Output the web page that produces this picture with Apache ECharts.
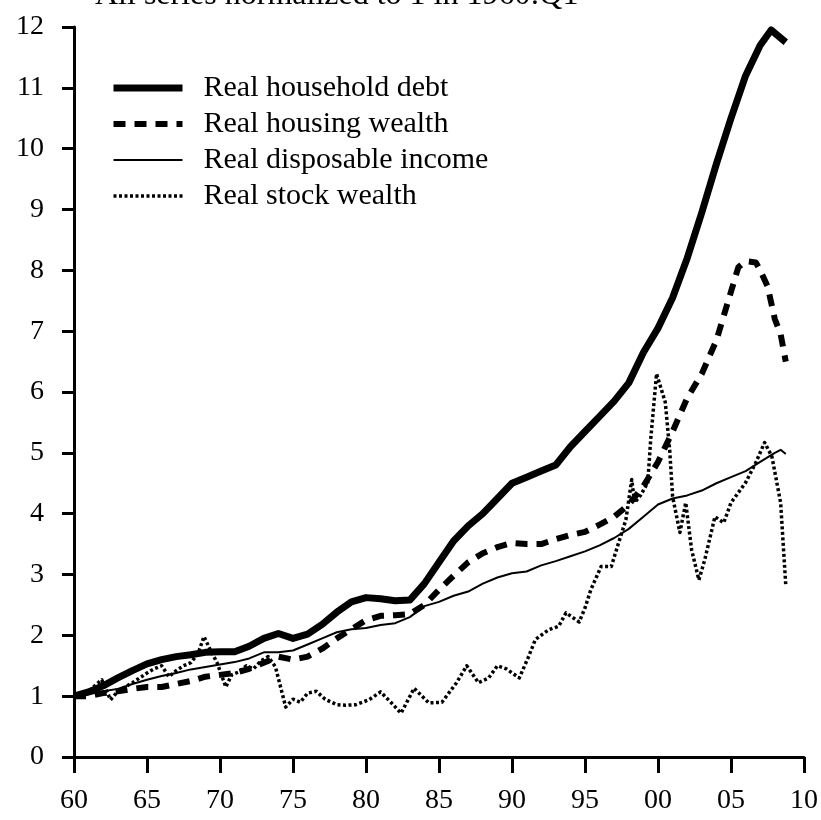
<!DOCTYPE html>
<html>
<head>
<meta charset="utf-8">
<script src="https://cdn.jsdelivr.net/npm/echarts@6/dist/echarts.min.js"></script>
<style>
  html, body { margin: 0; padding: 0; background: #fff; }
  #chart { width: 821px; height: 820px; }
</style>
</head>
<body>
<div id="chart"></div>
<script>
// Household balance sheet series, normalized to 1 in 1960:Q1 ([year, index])
const seriesNames = ['Real household debt', 'Real housing wealth', 'Real disposable income', 'Real stock wealth'];

const householdDebt = [
  [1960, 1.0], [1961, 1.07], [1962, 1.17], [1963, 1.3], [1964, 1.42], [1965, 1.53],
  [1966, 1.6], [1967, 1.65], [1968, 1.68], [1969, 1.72], [1970, 1.73], [1971, 1.73],
  [1972, 1.82], [1973, 1.95], [1974, 2.03], [1975, 1.95], [1976, 2.02], [1977, 2.18],
  [1978, 2.38], [1979, 2.55], [1980, 2.62], [1981, 2.6], [1982, 2.57], [1983, 2.58],
  [1984, 2.85], [1985, 3.2], [1986, 3.55], [1987, 3.8], [1988, 4.0], [1989, 4.25],
  [1990, 4.5], [1991, 4.6], [1992, 4.7], [1993, 4.8], [1994, 5.1], [1995, 5.35],
  [1996, 5.6], [1997, 5.85], [1998, 6.15], [1999, 6.65], [2000, 7.05], [2001, 7.55],
  [2002, 8.2], [2003, 8.95], [2004, 9.75], [2005, 10.5], [2006, 11.2], [2007, 11.7],
  [2007.75, 11.95], [2008.75, 11.75]
];

const housingWealth = [
  [1960, 1.0], [1961, 1.0], [1962, 1.05], [1963, 1.08], [1964, 1.12], [1965, 1.15],
  [1966, 1.15], [1967, 1.2], [1968, 1.25], [1969, 1.32], [1970, 1.35], [1971, 1.38],
  [1972, 1.45], [1973, 1.55], [1974, 1.65], [1975, 1.6], [1976, 1.65], [1977, 1.78],
  [1978, 1.95], [1979, 2.1], [1980, 2.25], [1981, 2.32], [1982, 2.33], [1983, 2.35],
  [1984, 2.5], [1985, 2.75], [1986, 2.98], [1987, 3.2], [1988, 3.35], [1989, 3.45],
  [1990, 3.52], [1991, 3.5], [1992, 3.5], [1993, 3.58], [1994, 3.65], [1995, 3.7],
  [1996, 3.82], [1997, 3.95], [1998, 4.15], [1999, 4.45], [2000, 4.85], [2001, 5.35],
  [2002, 5.9], [2003, 6.3], [2004, 6.85], [2005, 7.65], [2005.5, 8.05], [2006, 8.15],
  [2006.7, 8.13], [2007, 8.0], [2007.5, 7.74], [2008, 7.2], [2008.4, 6.95], [2008.75, 6.5]
];

const disposableIncome = [
  [1960, 1.0], [1961, 1.03], [1962, 1.08], [1963, 1.12], [1964, 1.2], [1965, 1.27],
  [1966, 1.33], [1967, 1.38], [1968, 1.44], [1969, 1.48], [1970, 1.52], [1971, 1.56],
  [1972, 1.62], [1973, 1.72], [1974, 1.72], [1975, 1.75], [1976, 1.85], [1977, 1.95],
  [1978, 2.05], [1979, 2.1], [1980, 2.12], [1981, 2.17], [1982, 2.2], [1983, 2.3],
  [1984, 2.48], [1985, 2.55], [1986, 2.65], [1987, 2.72], [1988, 2.85], [1989, 2.95],
  [1990, 3.02], [1991, 3.05], [1992, 3.15], [1993, 3.22], [1994, 3.3], [1995, 3.38],
  [1996, 3.48], [1997, 3.6], [1998, 3.75], [1999, 3.95], [2000, 4.15], [2001, 4.25],
  [2002, 4.3], [2003, 4.38], [2004, 4.5], [2005, 4.6], [2006, 4.7], [2007, 4.85],
  [2008, 5.0], [2008.4, 5.05], [2008.75, 4.98]
];

const stockWealth = [
  [1960, 1.0], [1960.5, 1.02], [1961, 1.08], [1961.9, 1.27], [1962.5, 0.94], [1963, 1.08],
  [1963.5, 1.15], [1964, 1.22], [1964.5, 1.3], [1965, 1.38], [1965.5, 1.45], [1966, 1.5],
  [1966.5, 1.32], [1967, 1.42], [1967.5, 1.5], [1968, 1.55], [1968.5, 1.7], [1968.9, 1.98],
  [1969.3, 1.78], [1969.8, 1.55], [1970.4, 1.15], [1970.8, 1.35], [1971.3, 1.4], [1971.8, 1.5],
  [1972.3, 1.45], [1972.8, 1.58], [1973.3, 1.65], [1973.8, 1.48], [1974.5, 0.82], [1975.0, 0.95],
  [1975.5, 0.9], [1976, 1.05], [1976.6, 1.08], [1977.2, 0.95], [1978, 0.86], [1978.6, 0.85],
  [1979.3, 0.86], [1980.2, 0.94], [1981, 1.07], [1981.7, 0.9], [1982.4, 0.72], [1983.3, 1.13],
  [1984.3, 0.89], [1985.2, 0.9], [1986.2, 1.22], [1986.9, 1.5], [1987.7, 1.22], [1988.4, 1.3],
  [1989, 1.5], [1989.6, 1.45], [1990.5, 1.3], [1991.1, 1.63], [1991.6, 1.93], [1992.5, 2.09],
  [1993.2, 2.15], [1993.7, 2.37], [1994.6, 2.22], [1995, 2.45], [1995.4, 2.75], [1996.1, 3.13],
  [1996.8, 3.13], [1997.3, 3.52], [1997.8, 3.9], [1998.2, 4.56], [1998.4, 4.18], [1998.8, 4.3],
  [1999.3, 4.51], [1999.5, 5.22], [1999.9, 6.3], [2000.5, 5.83], [2000.8, 5.05], [2001, 4.28],
  [2001.5, 3.69], [2001.9, 4.18], [2002.3, 3.41], [2002.8, 2.91], [2003.2, 3.24], [2003.9, 3.95],
  [2004.5, 3.85], [2005, 4.18], [2006, 4.51], [2006.7, 4.84], [2007.3, 5.17], [2007.8, 4.94],
  [2008.4, 4.18], [2008.75, 2.83]
];

const subtitle = 'All series normalized to 1 in 1960:Q1';
const serif = '"Liberation Serif", "DejaVu Serif", serif';

// Stroke styles shared by each series and its legend entry
const strokes = [
  { width: 7, type: 'solid' },
  { width: 6, type: [12, 9] },
  { width: 2, type: 'solid' },
  { width: 3.5, type: [3, 2.5] }
];

const chart = echarts.init(document.getElementById('chart'), null, { renderer: 'canvas' });

function lineSeries(i, data) {
  return {
    name: seriesNames[i],
    type: 'line',
    data: data,
    symbol: 'none',
    showSymbol: false,
    silent: true,
    lineStyle: { color: '#000', width: strokes[i].width, type: strokes[i].type, cap: 'butt', join: 'round' },
    itemStyle: { color: '#000' }
  };
}

chart.setOption({
  animation: false,
  backgroundColor: '#fff',
  graphic: [{
    type: 'text',
    left: 95,
    top: -20,
    style: { text: subtitle, font: '32px ' + serif, fill: '#000' }
  }],
  legend: {
    orient: 'vertical',
    left: 110,
    top: 73,
    padding: 0,
    itemWidth: 69,
    itemHeight: 20,
    itemGap: 6,
    data: seriesNames.map(function (name, i) {
      return {
        name: name,
        itemStyle: { opacity: 0 },
        lineStyle: { color: '#000', width: strokes[i].width, type: strokes[i].type, cap: 'butt' }
      };
    }),
    textStyle: { fontFamily: serif, fontSize: 30, lineHeight: 30, color: '#000', padding: [0, 0, 0, 16] }
  },
  grid: { left: 74, right: 14, top: 27, bottom: 63, containLabel: false },
  xAxis: {
    type: 'value',
    min: 1960,
    max: 2010,
    interval: 5,
    axisLine: { show: true, onZero: false, lineStyle: { color: '#000', width: 3 } },
    axisTick: { show: true, length: 16, lineStyle: { color: '#000', width: 3 } },
    splitLine: { show: false },
    axisLabel: {
      margin: 30,
      fontFamily: serif,
      fontSize: 28,
      color: '#000',
      formatter: function (v) { return String(v % 100).padStart(2, '0'); }
    }
  },
  yAxis: {
    type: 'value',
    min: 0,
    max: 12,
    interval: 1,
    axisLine: { show: true, onZero: false, lineStyle: { color: '#000', width: 3 } },
    axisTick: { show: true, length: 12, lineStyle: { color: '#000', width: 3 } },
    splitLine: { show: false },
    axisLabel: { margin: 30, fontFamily: serif, fontSize: 28, color: '#000' }
  },
  series: [
    lineSeries(0, householdDebt),
    lineSeries(1, housingWealth),
    lineSeries(2, disposableIncome),
    lineSeries(3, stockWealth)
  ]
});
</script>
</body>
</html>
